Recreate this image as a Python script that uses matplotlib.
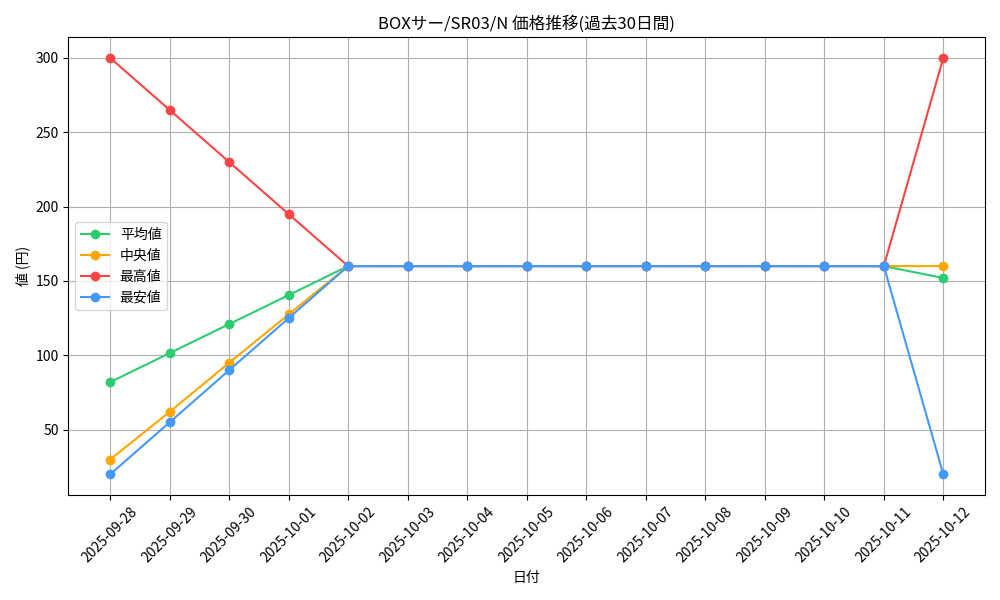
import matplotlib
matplotlib.use("Agg")
import matplotlib.pyplot as plt

plt.rcParams['font.family'] = ['Noto Sans CJK JP', 'DejaVu Sans']

dates = ["2025-09-28", "2025-09-29", "2025-09-30", "2025-10-01", "2025-10-02",
         "2025-10-03", "2025-10-04", "2025-10-05", "2025-10-06", "2025-10-07",
         "2025-10-08", "2025-10-09", "2025-10-10", "2025-10-11", "2025-10-12"]
avg_price = [82, 101.5, 121, 140.5, 160, 160, 160, 160, 160, 160, 160, 160, 160, 160, 152]
median_price = [30, 62, 95, 127.5, 160, 160, 160, 160, 160, 160, 160, 160, 160, 160, 160]
max_price = [300, 265, 230, 195, 160, 160, 160, 160, 160, 160, 160, 160, 160, 160, 300]
min_price = [20, 55, 90, 125, 160, 160, 160, 160, 160, 160, 160, 160, 160, 160, 20]

fig, ax = plt.subplots(figsize=(10, 6), dpi=100)
ax.plot(dates, avg_price, marker='o', color='#2ecc71', label='平均値')
ax.plot(dates, median_price, marker='o', color='#ffa500', label='中央値')
ax.plot(dates, max_price, marker='o', color='#ff4444', label='最高値')
ax.plot(dates, min_price, marker='o', color='#4499ff', label='最安値')

ax.set_title('BOXサー/SR03/N 価格推移(過去30日間)')
ax.set_xlabel('日付')
ax.set_ylabel('値 (円)')
ax.grid(True, color='#b0b0b0')
ax.legend(loc='center left')
plt.xticks(rotation=45)
plt.tight_layout()
plt.savefig('out.png')
